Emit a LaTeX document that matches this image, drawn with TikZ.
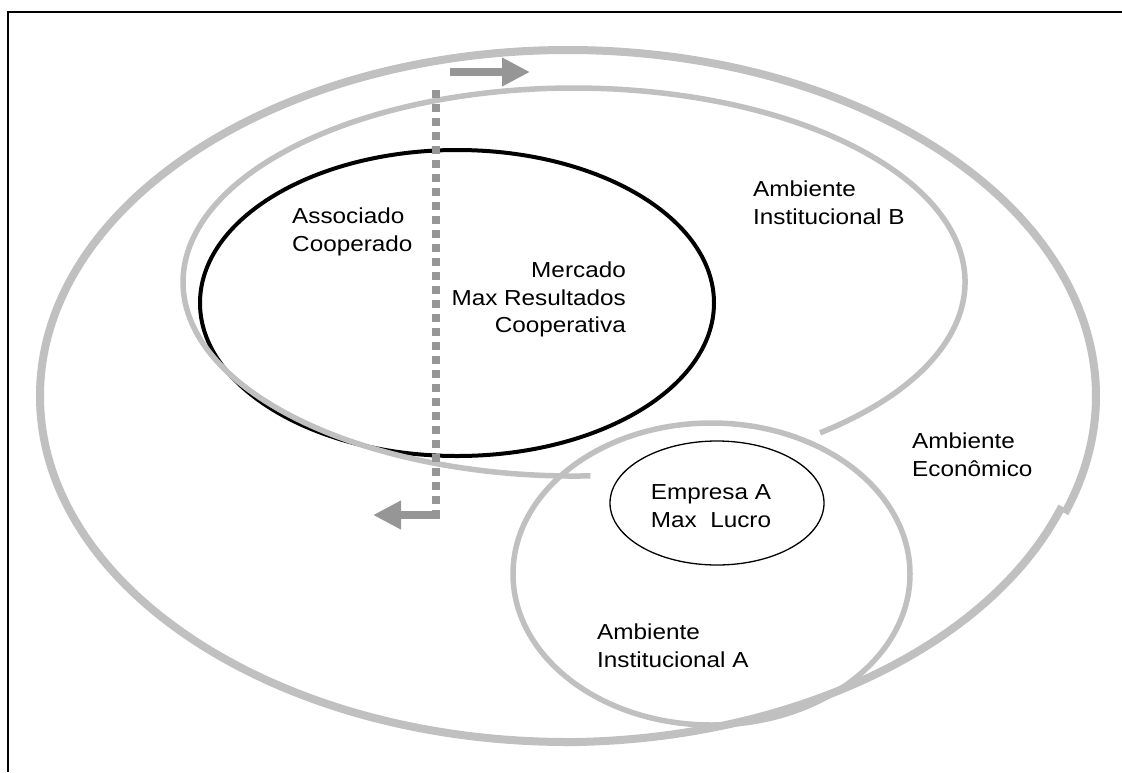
\documentclass[tikz,border=0pt]{standalone}
\usepackage{fontspec}
\setmainfont{Liberation Sans}[FakeStretch=1.12]
\usetikzlibrary{arrows.meta}
\definecolor{ringgray}{RGB}{192,192,192}
\definecolor{arrowgray}{RGB}{150,150,150}
\tikzset{
  ring/.style={draw=ringgray, line width=#1},
  flowarrow/.style={arrowgray, line width=7.5pt, -{Triangle[length=28pt,width=27pt]}},
  flowdots/.style={arrowgray, line width=7.5pt, dash pattern=on 8pt off 6pt},
  lbl/.style={inner sep=0pt, font=\fontsize{21.7}{27.7}\selectfont}
}
\begin{document}
\begin{tikzpicture}[x=1pt, y=-1pt]
        \useasboundingbox (0,0) rectangle (1122,772);
        %frame
        \draw[line width=2pt] (1122,12) -- (8,12) -- (8,772);
        %rings
        \draw[ring=8pt] (568,742) arc [start angle=90, end angle=379.8, x radius=528, y radius=346];
        \draw[ring=8pt] (1061.8,506.5) arc [start angle=18.6, end angle=90, x radius=528, y radius=346];
        \draw[black, line width=4pt] (457,303) ellipse [x radius=257, y radius=153];
        \draw[ring=5.5pt] (820.1,432.8) arc [start angle=51, end angle=-272.4, x radius=391, y radius=194];
        \draw[ring=5.5pt] (711.5,574) ellipse [x radius=198.5, y radius=151];
        \draw[black, line width=1.3pt] (717,503) ellipse [x radius=107, y radius=62];
        %arrows
        \coordinate (dtop) at (436,90);
        \coordinate (dbot) at (436,511);
        \coordinate (acorner) at (440,515);
        \coordinate (aleft) at (373,515);
        \coordinate (rstart) at (450,72);
        \coordinate (rend) at (530,72);
        \draw[flowdots] (dtop) -- (dbot);
        \draw[flowarrow] (acorner) -- (aleft);
        \draw[flowarrow] (rstart) -- (rend);
        %labels
        \node[lbl, anchor=north west, align=left] (assoc) at (292,207.4) {Associado\\Cooperado};
        \node[lbl, anchor=north east, align=right] (merc) at (626,261.4) {Mercado\\Max Resultados\\Cooperativa};
        \node[lbl, anchor=north west, align=left] (instb) at (753,180.4) {Ambiente\\Institucional B};
        \node[lbl, anchor=north west, align=left] (econ) at (912,432.4) {Ambiente\\Econômico};
        \node[lbl, anchor=north, align=center] (emp) at (711,484.4) {Empresa A\\Max\ \ Lucro};
        \node[lbl, anchor=north west, align=left] (insta) at (597,623.4) {Ambiente\\Institucional A};
\end{tikzpicture}
\end{document}
